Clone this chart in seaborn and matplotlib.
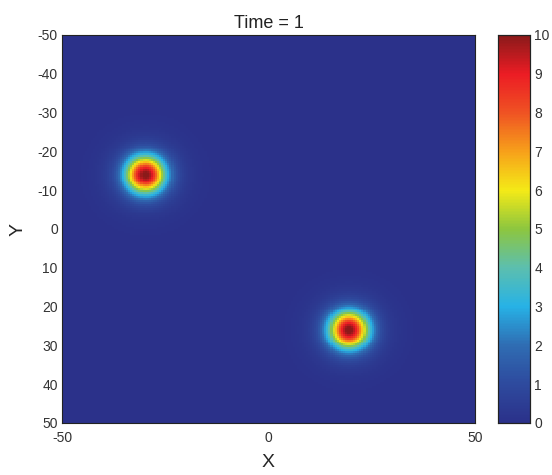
import numpy as np
import pandas as pd
import matplotlib
matplotlib.use('Agg')
import matplotlib.pyplot as plt
import seaborn as sns
from matplotlib.colors import LinearSegmentedColormap

# blob parameters
blob_x = [-29.8, 19.5]
blob_y = [-14.0, 26.0]
blob_peak = [9.0, 9.0]
blob_width = [3.3, 3.3]
# faint wide glow around each blob
halo_peak = [1.2, 1.2]
halo_width = [6.0, 6.0]

x_ticks = [-50, 0, 50]
y_ticks = [-50, -40, -30, -20, -10, 0, 10, 20, 30, 40, 50]
cbar_ticks = [0, 1, 2, 3, 4, 5, 6, 7, 8, 9, 10]

# grid of cell centres from -50 to 50
n = 200
centres = np.linspace(-50, 50, n + 1)[:-1] + 50.0 / n
xx, yy = np.meshgrid(centres, centres)
field = np.zeros_like(xx)
for bx, by, a, s, ha, hs in zip(blob_x, blob_y, blob_peak, blob_width,
                                halo_peak, halo_width):
    r2 = (xx - bx) ** 2 + (yy - by) ** 2
    field += a * np.exp(-r2 / (2 * s ** 2)) + ha * np.exp(-r2 / (2 * hs ** 2))
df = pd.DataFrame(field, index=centres, columns=centres)

jet_print = LinearSegmentedColormap.from_list("jet_print", [
    "#2b318a", "#2e4a9e", "#2f6db3", "#27b2e6", "#5cbfae", "#8dc63f",
    "#f4ea17", "#f7a11a", "#ef5323", "#ec1c24", "#8b1a1a"])

sns.set_style("white")
plt.rcParams['font.family'] = ['Liberation Sans', 'DejaVu Sans']
plt.rcParams['text.color'] = '#222222'
plt.rcParams['xtick.color'] = '#333333'
plt.rcParams['ytick.color'] = '#333333'

fig = plt.figure(figsize=(5.52, 4.75), dpi=100)
ax = fig.add_axes([62 / 552, 1 - 423 / 475, 413 / 552, 388 / 475])
cax = fig.add_axes([498 / 552, 1 - 423 / 475, 32 / 552, 388 / 475])

sns.heatmap(df, ax=ax, cbar_ax=cax, cmap=jet_print, vmin=0, vmax=10,
            xticklabels=False, yticklabels=False)

def pos(v):
    return (v + 50) / 100 * n

ax.set_xticks([pos(v) for v in x_ticks])
ax.set_xticklabels([str(v) for v in x_ticks], rotation=0)
ax.set_yticks([pos(v) for v in y_ticks])
ax.set_yticklabels([str(v) for v in y_ticks], rotation=0)
ax.tick_params(direction='in', length=4, width=0.6, labelsize=10,
               top=True, right=True, pad=3, color='#222222')
ax.tick_params(axis='x', pad=6)
for sp in ax.spines.values():
    sp.set_visible(True)
    sp.set_linewidth(0.8)
    sp.set_color('#222222')

ax.set_title("Time = 1", fontsize=13, pad=5)
ax.set_xlabel("X", fontsize=14, labelpad=6)
ax.set_ylabel("Y", fontsize=14, labelpad=8)

cax.set_yticks(cbar_ticks)
cax.tick_params(direction='in', length=4, width=0.6, labelsize=10,
                left=True, right=True, pad=3, color='#222222')
for sp in cax.spines.values():
    sp.set_visible(True)
    sp.set_linewidth(0.8)
    sp.set_color('#222222')

fig.savefig("out.png", dpi=100)
plt.close(fig)
